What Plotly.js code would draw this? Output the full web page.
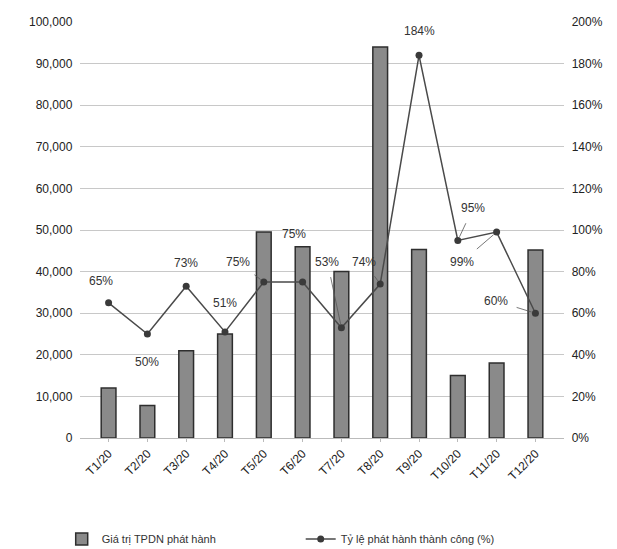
<!DOCTYPE html>
<html>
<head>
<meta charset="utf-8">
<script src="https://cdn.plot.ly/plotly-3.0.1.min.js"></script>
<style>html,body{margin:0;padding:0;background:#fff;}</style>
</head>
<body>
<div id="chart" style="width:617px;height:549px;"></div>
<script>
const months = ["T1/20","T2/20","T3/20","T4/20","T5/20","T6/20","T7/20","T8/20","T9/20","T10/20","T11/20","T12/20"];
const issueValue = [12000, 7800, 21000, 25000, 49500, 46000, 40000, 94000, 45300, 15000, 18000, 45200];
const successRate = [65, 50, 73, 51, 75, 75, 53, 74, 184, 95, 99, 60];
const rateLabels = ["65%","50%","73%","51%","75%","75%","53%","74%","184%","95%","99%","60%"];
const seriesNames = ["Giá trị TPDN phát hành", "Tỷ lệ phát hành thành công (%)"];

// label placement offsets (pixels): [ax, ay, leader line]
const labelOffsets = [
  [-8, -22, false], [0, 28, false], [0, -23, false], [0, -29, false],
  [-26, -20, true], [-9, -48, false], [-14, -66, true], [-16, -22, true],
  [0, -24, false], [15, -32, true], [-35, 30, true], [-39, -12, true]
];

const fontFam = 'Liberation Sans, Arial, sans-serif';

const annotations = months.map((m, i) => {
  const o = labelOffsets[i];
  return {
    x: m, y: successRate[i], xref: 'x', yref: 'y2',
    text: rateLabels[i], showarrow: true,
    ax: o[0], ay: o[1], axref: 'pixel', ayref: 'pixel',
    arrowhead: 0, arrowwidth: 0.8,
    arrowcolor: o[2] ? '#555' : 'rgba(0,0,0,0)',
    standoff: 4, startstandoff: 7,
    font: {family: fontFam, size: 12, color: '#333'}
  };
});

const traces = [
  {
    type: 'bar', x: months, y: issueValue, name: seriesNames[0],
    marker: {color: '#8a8a8a', line: {color: '#2e2e2e', width: 1.5}},
    yaxis: 'y'
  },
  {
    type: 'scatter', mode: 'lines+markers', x: months, y: successRate, name: seriesNames[1],
    line: {color: '#4a4a4a', width: 1.5},
    marker: {color: '#3a3a3a', size: 7, symbol: 'circle'},
    yaxis: 'y2'
  }
];

const layout = {
  width: 617, height: 549,
  margin: {l: 80, r: 53, t: 22, b: 111},
  paper_bgcolor: '#fff', plot_bgcolor: '#fff',
  bargap: 0.62,
  showlegend: true,
  legend: {orientation: 'h', xref: 'container', yref: 'container', x: 0.1, xanchor: 'left', y: 0.018, yanchor: 'middle',
           font: {family: fontFam, size: 11, color: '#333'}, entrywidth: 194, itemwidth: 30},
  xaxis: {
    type: 'category', tickangle: -45, showgrid: false, automargin: false,
    showline: true, linecolor: '#bbb', linewidth: 1,
    ticks: 'outside', ticklen: 3, tickcolor: '#bbb',
    tickfont: {family: fontFam, size: 12, color: '#222'}
  },
  yaxis: {
    range: [0, 100000], dtick: 10000, tickformat: ',d', automargin: false,
    showgrid: true, gridcolor: '#c8c8c8', gridwidth: 1, zeroline: false,
    showline: false, ticks: '', ticklen: 0,
    tickfont: {family: fontFam, size: 12, color: '#222'}, ticksuffix: '  '
  },
  yaxis2: {
    range: [0, 200], dtick: 20, ticksuffix: '%', overlaying: 'y', side: 'right', automargin: false,
    showgrid: false, zeroline: false, showline: false,
    tickfont: {family: fontFam, size: 12, color: '#222'}, tickprefix: '  '
  },
  annotations: annotations
};

Plotly.newPlot('chart', traces, layout, {displayModeBar: false, staticPlot: true});
</script>
</body>
</html>
